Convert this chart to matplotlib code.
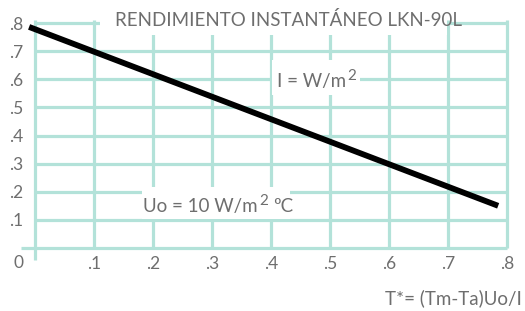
import matplotlib
matplotlib.use("Agg")
import matplotlib.pyplot as plt
from matplotlib.patches import Rectangle

# ---- data ----
x_ticks = [0.1, 0.2, 0.3, 0.4, 0.5, 0.6, 0.7, 0.8]
x_tick_labels = [".1", ".2", ".3", ".4", ".5", ".6", ".7", ".8"]
y_ticks = [0.1, 0.2, 0.3, 0.4, 0.5, 0.6, 0.7, 0.8]
y_tick_labels = [".1", ".2", ".3", ".4", ".5", ".6", ".7", ".8"]
line_x = [-0.01, 0.785]
line_y = [0.786, 0.150]
title = "RENDIMIENTO INSTANTÁNEO LKN-90L"
xlabel = "T*= (Tm-Ta)Uo/I"

W, H = 525, 311
GRID = "#b3e2d9"
TXT = "#6e6e6e"
FONT = ["Lato", "DejaVu Sans"]
WEIGHT = "normal"

fig = plt.figure(figsize=(W / 100, H / 100), dpi=100)
fig.patch.set_facecolor("white")

def fx(px):
    return px / W

def fy(py):
    return 1 - py / H

ax = fig.add_axes([fx(35), fy(248), fx(507) - fx(35), fy(23) - fy(248)])
ax.set_xlim(0, 0.8)
ax.set_ylim(0, 0.8)
for s in ax.spines.values():
    s.set_visible(False)

# grid
for xv in x_ticks:
    ax.plot([xv, xv], [0, 0.81], color=GRID, lw=2.3, zorder=1, clip_on=False,
            solid_capstyle="butt")
for yv in y_ticks:
    ax.plot([0, 0.8], [yv, yv], color=GRID, lw=2.3, zorder=1, clip_on=False,
            solid_capstyle="butt")
# axes lines (extend beyond the plot)
ax.plot([0, 0], [-0.043, 0.81], color=GRID, lw=2.3, zorder=1, clip_on=False,
        solid_capstyle="butt")
ax.plot([-0.023, 0.8], [0, 0], color=GRID, lw=2.3, zorder=1, clip_on=False,
        solid_capstyle="butt")

# white boxes behind labels
def wbox(x0, y0, x1, y1):
    ax.add_patch(Rectangle((fx(x0), fy(y1)), fx(x1) - fx(x0), fy(y0) - fy(y1),
                           transform=fig.transFigure, facecolor="white",
                           edgecolor="none", zorder=2, clip_on=False))

wbox(100, 0, 447, 35)
wbox(272, 60, 360, 95)
wbox(142, 187, 290, 219)

# data line
ax.plot(line_x, line_y, color="black", lw=4.2, zorder=3, clip_on=False,
        solid_capstyle="butt")

# ticks
ax.set_xticks(x_ticks)
ax.set_xticklabels(x_tick_labels)
ax.set_yticks(y_ticks)
ax.set_yticklabels(y_tick_labels, ha="left")
ax.tick_params(axis="both", length=0, labelsize=12.5, labelcolor=TXT)
ax.tick_params(axis="x", pad=6)
ax.tick_params(axis="y", pad=19)
for lab in ax.get_xticklabels() + ax.get_yticklabels():
    lab.set_family(FONT)
    lab.set_fontweight(WEIGHT)

kw = dict(color=TXT, family=FONT, fontweight=WEIGHT, zorder=5)
fig.text(fx(13), fy(263), "0", ha="left", va="center", fontsize=12.5, **kw)
fig.text(fx(115), fy(20), title, ha="left", va="center", fontsize=13.5, **kw)

t1 = fig.text(fx(277), fy(87), "I = W/m", ha="left", va="baseline",
              fontsize=13.5, **kw)
ax.annotate("2", xy=(1, 1), xycoords=t1, xytext=(1, 3),
            textcoords="offset points", ha="left", va="top", fontsize=11,
            annotation_clip=False, **kw)

t2 = fig.text(fx(143), fy(212), "Uo = 10 W/m", ha="left", va="baseline",
              fontsize=13.5, **kw)
s2 = ax.annotate("2", xy=(1, 1), xycoords=t2, xytext=(1, 3),
                 textcoords="offset points", ha="left", va="top", fontsize=11,
                 annotation_clip=False, **kw)
ax.annotate("ºC", xy=(1, 0), xycoords=(s2, t2), xytext=(4, 0),
            textcoords="offset points", ha="left", va="bottom", fontsize=13.5,
            annotation_clip=False, **kw)

fig.text(fx(522), fy(298), xlabel, ha="right", va="center", fontsize=13.5, **kw)

fig.savefig("out.png", dpi=100, facecolor="white")
